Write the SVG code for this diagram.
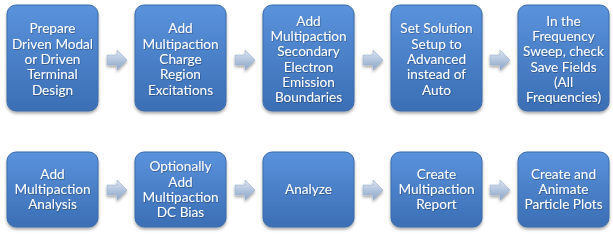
<svg xmlns="http://www.w3.org/2000/svg" width="613" height="236" viewBox="0 0 613 236">
<defs>
<linearGradient id="bg" x1="0" y1="0" x2="0" y2="1">
<stop offset="0" stop-color="#5a93dc"/>
<stop offset="0.5" stop-color="#4a80c8"/>
<stop offset="1" stop-color="#3b6fb5"/>
</linearGradient>
<linearGradient id="ag" x1="0" y1="0" x2="0" y2="1">
<stop offset="0" stop-color="#dde6f2"/>
<stop offset="0.5" stop-color="#b3c5de"/>
<stop offset="1" stop-color="#8aa4c8"/>
</linearGradient>
<filter id="sh" x="-20%" y="-20%" width="140%" height="140%">
<feDropShadow dx="0" dy="2" stdDeviation="1.8" flood-color="#000" flood-opacity="0.35"/>
</filter>
<filter id="ts" x="-10%" y="-10%" width="120%" height="120%">
<feDropShadow dx="0.6" dy="0.8" stdDeviation="0.4" flood-color="#000" flood-opacity="0.35"/>
</filter>
<path id="arr" d="M0,-5 H10 V-10 L20,0 L10,10 V5 H0 Z"/>
</defs>
<style>
.box{fill:url(#bg);stroke:#3a6aa8;stroke-width:1;filter:url(#sh)}
.t{font-family:Lato,"Open Sans",sans-serif;font-size:13.6px;fill:#fff;text-anchor:middle;filter:url(#ts)}
.a{fill:url(#ag);stroke:#9fb2cc;stroke-width:0.6;filter:url(#sh)}
</style>
<rect width="613" height="236" fill="#fff"/>
<g id="connectors">
<use href="#arr" class="a" x="107" y="60"/>
<use href="#arr" class="a" x="235" y="60"/>
<use href="#arr" class="a" x="363" y="60"/>
<use href="#arr" class="a" x="490" y="60"/>
<use href="#arr" class="a" x="107" y="190"/>
<use href="#arr" class="a" x="235" y="190"/>
<use href="#arr" class="a" x="363" y="190"/>
<use href="#arr" class="a" x="490" y="190"/>
</g>
<g id="n1"><rect class="box" x="7" y="5" width="91" height="106" rx="9"/>
<text class="t"><tspan x="52.5" y="33.3">Prepare</tspan><tspan x="52.5" y="48.6">Driven Modal</tspan><tspan x="52.5" y="63.9">or Driven</tspan><tspan x="52.5" y="79.2">Terminal</tspan><tspan x="52.5" y="94.5">Design</tspan></text></g>
<g id="n2"><rect class="box" x="135" y="5" width="91" height="106" rx="9"/>
<text class="t"><tspan x="180.5" y="33.3">Add</tspan><tspan x="180.5" y="48.6">Multipaction</tspan><tspan x="180.5" y="63.9">Charge</tspan><tspan x="180.5" y="79.2">Region</tspan><tspan x="180.5" y="94.5">Excitations</tspan></text></g>
<g id="n3"><rect class="box" x="263" y="5" width="91" height="106" rx="9"/>
<text class="t"><tspan x="308.5" y="25.6">Add</tspan><tspan x="308.5" y="40.9">Multipaction</tspan><tspan x="308.5" y="56.2">Secondary</tspan><tspan x="308.5" y="71.5">Electron</tspan><tspan x="308.5" y="86.8">Emission</tspan><tspan x="308.5" y="102.1">Boundaries</tspan></text></g>
<g id="n4"><rect class="box" x="391" y="5" width="91" height="106" rx="9"/>
<text class="t"><tspan x="436.5" y="33.3">Set Solution</tspan><tspan x="436.5" y="48.6">Setup to</tspan><tspan x="436.5" y="63.9">Advanced</tspan><tspan x="436.5" y="79.2">instead of</tspan><tspan x="436.5" y="94.5">Auto</tspan></text></g>
<g id="n5"><rect class="box" x="518" y="5" width="91" height="106" rx="9"/>
<text class="t"><tspan x="563.5" y="25.6">In the</tspan><tspan x="563.5" y="40.9">Frequency</tspan><tspan x="563.5" y="56.2">Sweep, check</tspan><tspan x="563.5" y="71.5">Save Fields</tspan><tspan x="563.5" y="86.8">(All</tspan><tspan x="563.5" y="102.1">Frequencies)</tspan></text></g>
<g id="n6"><rect class="box" x="7" y="152" width="91" height="75" rx="9"/>
<text class="t"><tspan x="52.5" y="178.8">Add</tspan><tspan x="52.5" y="194.1">Multipaction</tspan><tspan x="52.5" y="209.4">Analysis</tspan></text></g>
<g id="n7"><rect class="box" x="135" y="152" width="91" height="75" rx="9"/>
<text class="t"><tspan x="180.5" y="171.4">Optionally</tspan><tspan x="180.5" y="186.7">Add</tspan><tspan x="180.5" y="202">Multipaction</tspan><tspan x="180.5" y="217.3">DC Bias</tspan></text></g>
<g id="n8"><rect class="box" x="263" y="152" width="91" height="75" rx="9"/>
<text class="t"><tspan x="308.5" y="194.1">Analyze</tspan></text></g>
<g id="n9"><rect class="box" x="391" y="152" width="91" height="75" rx="9"/>
<text class="t"><tspan x="436.5" y="178.8">Create</tspan><tspan x="436.5" y="194.1">Multipaction</tspan><tspan x="436.5" y="209.4">Report</tspan></text></g>
<g id="n10"><rect class="box" x="518" y="152" width="91" height="75" rx="9"/>
<text class="t"><tspan x="563.5" y="178.8">Create and</tspan><tspan x="563.5" y="194.1">Animate</tspan><tspan x="563.5" y="209.4">Particle Plots</tspan></text></g>
</svg>
